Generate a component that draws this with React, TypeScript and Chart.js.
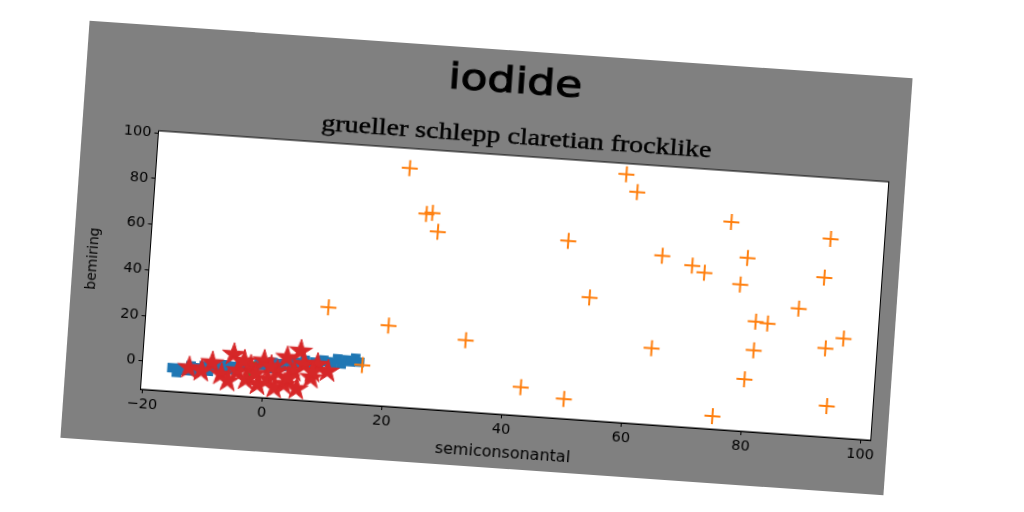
import React, { useEffect, useRef } from "react";
import { Chart, registerables } from "chart.js";
Chart.register(...registerables);

const TITLE = "iodide";
const SUBTITLE = "grueller schlepp claretian frocklike";
const X_LABEL = "semiconsonantal";
const Y_LABEL = "bemiring";

const xTicks = [-20, 0, 20, 40, 60, 80, 100];
const yTicks = [0, 20, 40, 60, 80, 100];

const blueX = [-15.4, -14.6, -13.9, -13.1, -12.3, -11.6, -10.8, -10.1, -9.3, -8.6, -7.8, -7.0, -6.3, -5.5, -4.8, -4.0, -3.2, -2.5, -1.7, -1.0, -0.2, 0.6, 1.3, 2.1, 2.8, 3.6, 4.4, 5.1, 5.9, 6.6, 7.4, 8.2, 8.9, 9.7, 10.4, 11.2, 12.0, 12.7, 13.5, 14.2, 15.0, 15.7];
const blueY = [-2.1, -4.0, -2.1, -2.9, -0.7, -2.9, -1.4, -0.3, -2.4, -0.3, -0.9, 0.8, -1.0, 0.4, -1.2, 1.3, 2.2, 0.6, 0.3, 2.4, 1.8, 0.7, 3.3, 3.0, 2.0, 4.2, 2.0, 4.1, 3.6, 5.3, 3.3, 4.7, 3.3, 5.8, 5.3, 4.8, 6.8, 4.8, 6.6, 6.0, 7.6, 6.1];

const orangeX = [21.8, 57.9, 59.9, 25.1, 26.1, 27.2, 49.0, 75.9, 92.6, 64.8, 69.9, 72.0, 79.0, 78.1, 92.0, 9.9, 20.1, 53.2, 88.1, 81.1, 83.1, 95.9, 33.1, 64.1, 81.1, 93.0, 16.2, 42.8, 50.1, 79.9, 75.0, 93.9];
const orangeY = [92.3, 96.3, 88.8, 72.9, 73.5, 65.4, 65.4, 78.7, 74.3, 61.8, 58.4, 55.7, 63.5, 51.6, 57.2, 29.1, 23.0, 41.3, 42.9, 35.9, 35.4, 31.2, 18.9, 21.1, 23.3, 26.3, 4.9, 0.1, -3.8, 10.4, -6.7, 1.2];

const greenX = [-2.7, -2.5, -2.3, -2.1];
const greenY = [-4.5, -2.5, -0.5, 1.5];

const redX = [-12.6, -8.8, -7.2, -5.3, -4.5, -3.0, -2.4, -0.2, 0.6, 1.8, 3.6, 4.9, 5.8, 6.5, 7.8, 8.7, 10.5, 2.1, -1.0, 3.4, -10.5, 1.0, 4.0, -1.5, -6.0, 5.5, -3.5, 8.0];
const redY = [-1.6, 1.3, -3.5, 5.6, -1.5, -4.9, 1.0, 3.6, -4.2, -7.7, 5.8, 0.2, 9.1, 3.4, -2.2, 3.8, 1.2, -0.3, -6.7, -5.9, -2.5, 1.5, -3.0, -2.0, -6.0, -7.5, 3.0, 0.5];

const FIG_W = 825;
const FIG_H = 418;

function makeStar(color: string, r: number) {
  const c = document.createElement("canvas");
  const s = Math.ceil(r * 2 + 2);
  c.width = s;
  c.height = s;
  const g = c.getContext("2d")!;
  const cx = s / 2, cy = s / 2, ri = r * 0.381966;
  g.beginPath();
  for (let i = 0; i < 10; i++) {
    const ang = -Math.PI / 2 + (i * Math.PI) / 5;
    const rr = i % 2 === 0 ? r : ri;
    const px = cx + rr * Math.cos(ang);
    const py = cy + rr * Math.sin(ang);
    if (i === 0) g.moveTo(px, py);
    else g.lineTo(px, py);
  }
  g.closePath();
  g.fillStyle = color;
  g.fill();
  g.strokeStyle = color;
  g.lineWidth = 1;
  g.stroke();
  return c;
}

const pts = (xs: number[], ys: number[]) => xs.map((x, i) => ({ x, y: ys[i] }));
const fmt = (v: number) => (v < 0 ? "\u2212" + Math.abs(v) : String(v));

const decor = {
  id: "decor",
  beforeDraw(chart: any) {
    const { ctx, chartArea: a } = chart;
    ctx.save();
    ctx.fillStyle = "#ffffff";
    ctx.fillRect(a.left, a.top, a.right - a.left, a.bottom - a.top);
    ctx.restore();
  },
  afterDraw(chart: any) {
    const { ctx, chartArea: a } = chart;
    ctx.save();
    ctx.strokeStyle = "#000";
    ctx.lineWidth = 1;
    ctx.strokeRect(a.left, a.top, a.right - a.left, a.bottom - a.top);
    ctx.fillStyle = "#000";
    ctx.textAlign = "center";
    ctx.textBaseline = "middle";
    // main title
    ctx.save();
    ctx.font = "36px 'DejaVu Sans'";
    let w = ctx.measureText(TITLE).width;
    ctx.translate(429, 33);
    ctx.scale(134 / w, 1);
    ctx.lineWidth = 1;
    ctx.strokeStyle = "#000";
    ctx.fillText(TITLE, 0, 0);
    ctx.strokeText(TITLE, 0, 0);
    ctx.restore();
    // subtitle
    ctx.save();
    ctx.font = "23px 'Liberation Serif'";
    w = ctx.measureText(SUBTITLE).width;
    ctx.translate(434, 87);
    ctx.scale(391 / w, 1);
    ctx.lineWidth = 0.4;
    ctx.strokeStyle = "#000";
    ctx.fillText(SUBTITLE, 0, 0);
    ctx.strokeText(SUBTITLE, 0, 0);
    ctx.restore();
    // axis labels
    ctx.font = "16px 'DejaVu Sans'";
    ctx.fillText(X_LABEL, 442, 403);
    ctx.save();
    ctx.font = "14px 'DejaVu Sans'";
    ctx.translate(20.5, 237);
    ctx.rotate(-Math.PI / 2);
    ctx.fillText(Y_LABEL, 0, 0);
    ctx.restore();
    ctx.restore();
  },
};

export default function App() {
  const ref = useRef<HTMLCanvasElement | null>(null);
  useEffect(() => {
    if (!ref.current) return;
    const star = makeStar("#d62728", 12);
    const tickFont = { family: "'DejaVu Sans'", size: 14.5 };
    const chart = new Chart(ref.current, {
      type: "scatter",
      data: {
        datasets: [
          {
            data: pts(blueX, blueY),
            pointStyle: "rect",
            pointRadius: 6.8,
            backgroundColor: "#1f77b4",
            borderColor: "#1f77b4",
            borderWidth: 0,
            order: 4,
          },
          {
            data: pts(orangeX, orangeY),
            pointStyle: "cross",
            pointRadius: 8,
            borderColor: "#ff7f0e",
            backgroundColor: "#ff7f0e",
            borderWidth: 2,
            order: 3,
          },
          {
            data: pts(greenX, greenY),
            pointStyle: "circle",
            pointRadius: 4,
            borderColor: "#2ca02c",
            backgroundColor: "#2ca02c",
            borderWidth: 0,
            order: 2,
          },
          {
            data: pts(redX, redY),
            pointStyle: star as any,
            pointRadius: 12,
            borderColor: "#d62728",
            backgroundColor: "#d62728",
            order: 1,
          },
        ],
      },
      options: {
        animation: false,
        responsive: false,
        events: [],
        layout: { padding: { top: 105, right: 16.5, bottom: 0, left: 0 } },
        plugins: { legend: { display: false }, tooltip: { enabled: false }, title: { display: false } },
        scales: {
          x: {
            type: "linear",
            min: -20.4,
            max: 101.6,
            afterBuildTicks: (s: any) => {
              s.ticks = xTicks.map((v) => ({ value: v }));
            },
            afterFit: (s: any) => {
              s.height = 54;
            },
            grid: { drawOnChartArea: false, drawTicks: true, tickLength: 4, color: "#000" },
            border: { display: true, color: "#000", width: 1 },
            ticks: { color: "#000", font: tickFont, padding: 3, maxRotation: 0, autoSkip: false, callback: (v: any) => fmt(Number(v)) },
          },
          y: {
            type: "linear",
            min: -12.4,
            max: 101,
            afterBuildTicks: (s: any) => {
              s.ticks = yTicks.map((v) => ({ value: v }));
            },
            afterFit: (s: any) => {
              s.width = 76.5;
            },
            grid: { drawOnChartArea: false, drawTicks: true, tickLength: 4, color: "#000" },
            border: { display: true, color: "#000", width: 1 },
            ticks: { color: "#000", font: tickFont, padding: 3, autoSkip: false, callback: (v: any) => fmt(Number(v)) },
          },
        },
      },
      plugins: [decor],
    });
    return () => chart.destroy();
  }, []);
  return (
    <div style={{ position: "fixed", left: 0, top: 0, width: 1024, height: 512, background: "#ffffff", overflow: "hidden" }}>
      <div
        style={{
          position: "absolute",
          left: 486 - FIG_W / 2,
          top: 257.5 - FIG_H / 2,
          width: FIG_W,
          height: FIG_H,
          background: "#808080",
          transform: "rotate(4deg)",
          transformOrigin: "50% 50%",
        }}
      >
        <canvas ref={ref} width={FIG_W} height={FIG_H} style={{ display: "block", width: FIG_W, height: FIG_H }} />
      </div>
    </div>
  );
}
